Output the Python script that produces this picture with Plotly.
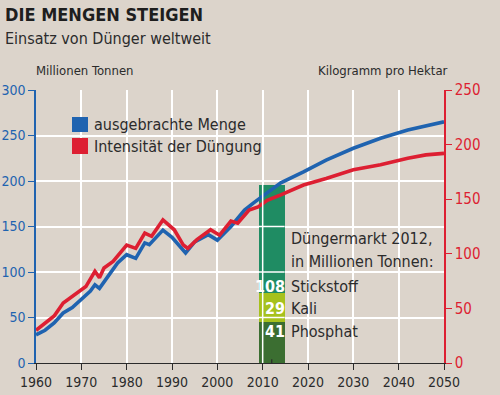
import plotly.graph_objects as go

# ---------------- data ----------------
menge_years = [1960, 1962, 1964, 1966, 1968, 1970, 1972, 1973, 1974, 1976, 1978, 1980,
               1982, 1984, 1985, 1988, 1990, 1993, 1995, 1998, 2000, 2003, 2006, 2008,
               2010, 2014, 2019, 2024, 2030, 2036, 2042, 2046, 2050]
menge_values = [31, 36, 44, 55, 61, 70, 79, 86, 82, 96, 110, 119,
                115, 132, 130, 146, 138, 121, 133, 141, 135, 150, 168, 176,
                183, 198, 210, 223, 236, 247, 256, 260, 265]

intens_years = [1960, 1962, 1964, 1966, 1968, 1971, 1973, 1974, 1975, 1977, 1980, 1982,
                1984, 1985.5, 1988, 1990.5, 1992.5, 1993.5, 1995.5, 1998.5, 2000.5, 2003,
                2004.5, 2007, 2009, 2011, 2014, 2019, 2024, 2030, 2036, 2042, 2046, 2050]
intens_values = [30, 36, 43, 55, 61, 70, 84, 78, 87, 93, 108, 105,
                 119, 116, 131, 122, 108, 105, 113, 122, 117, 130,
                 128, 140, 143, 149, 154, 163, 169, 177, 181.5, 187.6, 190.6, 192]

market_year = 2012
market_names = ["Phosphat", "Kali", "Stickstoff"]
market_labels = ["41", "29", "108"]          # Mio. t, as printed
market_heights = [45, 32, 119]               # bar segment heights as read on left axis

left_ticks = [0, 50, 100, 150, 200, 250, 300]
right_ticks = [0, 50, 100, 150, 200, 250]
year_ticks = list(range(1960, 2051, 10))

# ---------------- style ----------------
BG = "#dcd4cb"
BLUE = "#1f63b0"
RED = "#dd1f32"
DARK = "#2b2b2b"
FONT = "Liberation Sans Narrow, DejaVu Sans Condensed, Roboto Condensed, Roboto, sans-serif"
BAR_COLORS = ["#3b6e31", "#a6c11c", "#1f8c63"]

W, H = 500, 395
L, R, T, B = 36, 56, 90, 32
PW, PH = W - L - R, H - T - B


def px(xp):
    return (xp - L) / PW


def py(yp):
    return (H - B - yp) / PH


fig = go.Figure()

# stacked market bar
for name, h, col in zip(market_names, market_heights, BAR_COLORS):
    fig.add_trace(go.Bar(x=[market_year], y=[h], width=5.7, marker=dict(color=col, line_width=0),
                         name=name, showlegend=False, hoverinfo="skip", yaxis="y"))

fig.add_trace(go.Scatter(x=intens_years, y=intens_values, mode="lines", yaxis="y2",
                         line=dict(color=RED, width=3.6), showlegend=False))
fig.add_trace(go.Scatter(x=menge_years, y=menge_values, mode="lines", yaxis="y",
                         line=dict(color=BLUE, width=3.6), showlegend=False))

fig.update_layout(
    width=W, height=H, margin=dict(l=L, r=R, t=T, b=B, autoexpand=False),
    paper_bgcolor=BG, plot_bgcolor=BG, barmode="stack", bargap=0,
    font=dict(family=FONT, color=DARK),
    xaxis=dict(range=[1960, 2050], tickvals=year_ticks, showgrid=True, gridcolor="white",
               gridwidth=1.5, zeroline=False, showline=True, linecolor=DARK, linewidth=1.3,
               automargin=False,
               ticks="outside", ticklen=6, tickcolor=DARK, tickfont=dict(size=14, color=DARK, family=FONT)),
    yaxis=dict(range=[0, 300], tickvals=left_ticks, showgrid=True, gridcolor="white", gridwidth=1.5,
               zeroline=False, showline=True, linecolor=BLUE, linewidth=1.5, ticks="outside",
               automargin=False,
               ticklen=6, tickcolor=BLUE, tickfont=dict(size=14, color=BLUE, family=FONT)),
    yaxis2=dict(range=[0, 250], tickvals=right_ticks, overlaying="y", side="right", showgrid=False,
                zeroline=False, showline=True, linecolor=RED, linewidth=1.5, ticks="outside",
                automargin=False,
                ticklen=6, tickcolor=RED, tickfont=dict(size=15, color=RED, family=FONT)),
)

shapes = []
bar_left, bar_right = market_year - 2.85, market_year + 2.85
bar_top = sum(market_heights)
for v in [50, 100, 150]:
    shapes.append(dict(type="line", xref="x", yref="y", x0=bar_left, x1=bar_right, y0=v, y1=v,
                       line=dict(color="white", width=1.5), layer="above"))
shapes.append(dict(type="line", xref="x", yref="y", x0=2010, x1=2010, y0=0, y1=bar_top,
                   line=dict(color="white", width=1.5), layer="above"))
shapes.append(dict(type="line", xref="x", yref="y", x0=market_year, x1=market_year, y0=0, y1=4,
                   line=dict(color=DARK, width=1.2), layer="above"))
# legend squares
shapes.append(dict(type="rect", xref="paper", yref="paper", x0=px(72), x1=px(88), y0=py(132), y1=py(117),
                   fillcolor=BLUE, line_width=0))
shapes.append(dict(type="rect", xref="paper", yref="paper", x0=px(72), x1=px(88), y0=py(154), y1=py(138),
                   fillcolor=RED, line_width=0))
fig.update_layout(shapes=shapes)

ann = []


def text(t, x, y, size, xanchor="left", color=DARK, bold=False):
    if bold:
        t = "<b>" + t + "</b>"
    ann.append(dict(text=t, xref="paper", yref="paper", x=px(x), y=py(y), xanchor=xanchor,
                    yanchor="middle", showarrow=False, font=dict(size=size, color=color, family=FONT)))


text("DIE MENGEN STEIGEN", 3, 14, 18, bold=True, color="#1e1e1e")
text("Einsatz von Dünger weltweit", 3, 38, 16)
text("Millionen Tonnen", 34, 70, 13)
text("Kilogramm pro Hektar", 450, 70, 13, xanchor="right")
text("ausgebrachte Menge", 92, 124.5, 16)
text("Intensität der Düngung", 92, 146, 16)
text("Düngermarkt 2012,", 289, 238, 16)
text("in Millionen Tonnen:", 289, 261, 16)
for name, lab, yy in zip(market_names, market_labels, [331, 308, 286]):
    text(name, 289, yy, 16)
    text(lab, 287, yy, 16, xanchor="right", color="white", bold=True)

fig.update_layout(annotations=ann)
fig.write_html("out.html", config={"displayModeBar": False},
               post_script="document.body.style.margin='0';document.body.style.padding='0';")
